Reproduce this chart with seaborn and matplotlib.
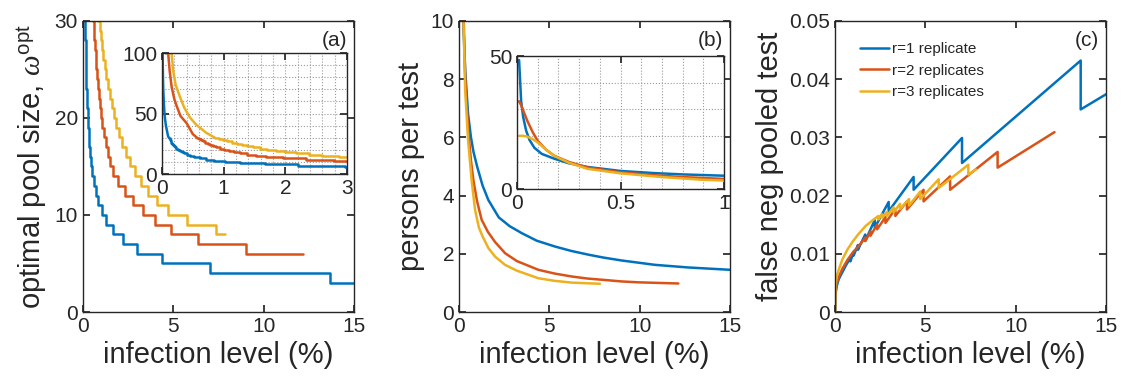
import matplotlib
matplotlib.use("Agg")
import numpy as np
import pandas as pd
import matplotlib.pyplot as plt
import seaborn as sns

# ── Data ──────────────────────────────────────────────────────────────────────
SERIES = ["r=1 replicate", "r=2 replicates", "r=3 replicates"]
COLORS = ["#0072BD", "#D95319", "#EDB120"]

# (a) optimal pool size, large pools (k > 30): steps too fine to see, read as a curve
pool_hi_x_r1 = [0.01, 0.013, 0.016, 0.021, 0.029, 0.041, 0.051, 0.064, 0.084, 0.1]
pool_hi_k_r1 = [100, 90, 80, 70, 60, 50, 45, 40, 35, 31]
pool_hi_x_r2 = [0.06, 0.1, 0.125, 0.157, 0.2, 0.24, 0.3, 0.4, 0.5]
pool_hi_k_r2 = [100, 100, 85, 72, 62, 56, 48, 42, 33]
pool_hi_x_r3 = [0.076, 0.157, 0.18, 0.22, 0.29, 0.36, 0.45, 0.55, 0.72]
pool_hi_k_r3 = [100, 100, 86, 74, 64, 55, 47, 41, 34]

# (a) optimal pool size, k <= 30: infection level (%) where each step starts, last = curve end
pool_x_r1 = [0.114, 0.122, 0.131, 0.141, 0.152, 0.165, 0.179, 0.195, 0.213, 0.234,
             0.258, 0.285, 0.318, 0.356, 0.402, 0.458, 0.526, 0.61, 0.715, 0.85,
             1.03, 1.27, 1.67, 2.20, 2.97, 4.35, 7.03, 13.7, 15.0]
pool_k_r1 = [30, 29, 28, 27, 26, 25, 24, 23, 22, 21,
             20, 19, 18, 17, 16, 15, 14, 13, 12, 11,
             10, 9, 8, 7, 6, 5, 4, 3, 3]
pool_x_r2 = [0.57, 0.60, 0.63, 0.67, 0.70, 0.74, 0.78, 0.83, 0.88, 0.94,
             1.01, 1.08, 1.16, 1.26, 1.38, 1.52, 1.68, 1.96, 2.33, 2.79,
             3.34, 3.98, 4.9, 6.37, 9.0, 12.2]
pool_k_r2 = [30, 29, 28, 27, 26, 25, 24, 23, 22, 21,
             20, 19, 18, 17, 16, 15, 14, 13, 12, 11,
             10, 9, 8, 7, 6, 6]
pool_x_r3 = [0.86, 0.92, 0.99, 1.06, 1.13, 1.21, 1.29, 1.38, 1.48, 1.59,
             1.71, 1.85, 2.0, 2.18, 2.38, 2.6, 2.87, 3.24, 3.6, 4.1,
             4.72, 5.74, 7.38, 7.85]
pool_k_r3 = [30, 29, 28, 27, 26, 25, 24, 23, 22, 21,
             20, 19, 18, 17, 16, 15, 14, 13, 12, 11,
             10, 9, 8, 8]

# (b) persons per test
ppt_x_r1 = [0.01, 0.02, 0.03, 0.044, 0.06, 0.084, 0.12, 0.18, 0.25, 0.34, 0.5, 0.66,
            0.8, 1.0, 1.3, 1.62, 2.2, 2.8, 3.47, 4.3, 5.31, 6.2, 7.16, 8.0, 9.0,
            10.85, 12.69, 15.0]
ppt_y_r1 = [48.5, 33, 27, 22, 18.5, 15.5, 13.2, 11.4, 9.7, 8.3, 6.8, 6.0,
            5.5, 5.0, 4.35, 3.85, 3.25, 2.95, 2.71, 2.45, 2.25, 2.1, 1.97, 1.87, 1.77,
            1.62, 1.53, 1.45]
ppt_x_r2 = [0.01, 0.02, 0.035, 0.05, 0.075, 0.1, 0.14, 0.18, 0.25, 0.34, 0.5, 0.66,
            0.8, 1.0, 1.25, 1.6, 2.0, 2.55, 3.2, 4.39, 5.3, 6.24, 7.1, 8.08, 9.0,
            9.92, 11.0, 12.14]
ppt_y_r2 = [33, 31.5, 28.5, 25.6, 21.5, 18.1, 14.8, 12.5, 10.2, 8.1, 6.3, 5.2,
            4.5, 3.8, 3.17, 2.75, 2.4, 2.02, 1.75, 1.45, 1.32, 1.22, 1.15, 1.10, 1.05,
            1.02, 1.0, 0.98]
ppt_x_r3 = [0.01, 0.03, 0.05, 0.075, 0.1, 0.14, 0.18, 0.25, 0.34, 0.5, 0.7, 0.89,
            1.1, 1.3, 1.62, 2.0, 2.55, 3.2, 4.39, 5.3, 6.24, 7.0, 7.8]
ppt_y_r3 = [20, 20, 19.7, 18.8, 17.5, 14.8, 12.5, 9.9, 7.6, 5.9, 4.5, 3.5,
            2.9, 2.6, 2.2, 1.9, 1.62, 1.42, 1.16, 1.07, 1.01, 0.99, 0.97]

# (c) false negative rate of a pooled test (sawtooth: peak then drop at same x)
fn_x_r1 = [0, 0.02, 0.1, 0.2, 0.4, 0.6, 0.85, 0.85, 1.03, 1.03, 1.27, 1.27, 1.67, 1.67,
           2.2, 2.2, 2.97, 2.97, 4.35, 4.35, 7.03, 7.03, 13.6, 13.6, 15.0]
fn_y_r1 = [0, 0.0030, 0.0045, 0.0056, 0.0068, 0.0080, 0.0093, 0.0087, 0.0103, 0.0097,
           0.0115, 0.0107, 0.0133, 0.0122, 0.0158, 0.0145, 0.0189, 0.0173, 0.0232, 0.0210,
           0.0299, 0.0256, 0.0432, 0.0348, 0.0374]
fn_x_r2 = [0, 0.02, 0.1, 0.2, 0.4, 0.7, 1.0, 1.3, 1.68, 1.68, 1.96, 1.96, 2.33, 2.33,
           2.79, 2.79, 3.34, 3.34, 3.98, 3.98, 4.9, 4.9, 6.37, 6.37, 9.0, 9.0, 12.15]
fn_y_r2 = [0, 0.0035, 0.0050, 0.0060, 0.0074, 0.0090, 0.0103, 0.0113, 0.0128, 0.0122,
           0.0138, 0.0131, 0.0150, 0.0142, 0.0163, 0.0153, 0.0177, 0.0165, 0.0190, 0.0176,
           0.0210, 0.0190, 0.0233, 0.0210, 0.0275, 0.0248, 0.0309]
fn_x_r3 = [0, 0.02, 0.1, 0.2, 0.4, 0.7, 1.0, 1.3, 1.7, 2.1, 2.4, 2.4, 2.6, 2.6, 2.87, 2.87,
           3.24, 3.24, 3.6, 3.6, 4.1, 4.1, 4.72, 4.72, 5.74, 5.74, 7.38, 7.38, 7.8]
fn_y_r3 = [0, 0.0045, 0.0062, 0.0072, 0.0090, 0.0108, 0.0122, 0.0134, 0.0148, 0.0158,
           0.0165, 0.0159, 0.0168, 0.0162, 0.0172, 0.0165, 0.0180, 0.0171, 0.0186, 0.0177,
           0.0194, 0.0183, 0.0207, 0.0194, 0.0228, 0.0213, 0.0253, 0.0236, 0.0245]

X_TICKS = [0, 5, 10, 15]
A_YTICKS = [0, 10, 20, 30]
B_YTICKS = [0, 2, 4, 6, 8, 10]
C_YTICKS = [0, 0.01, 0.02, 0.03, 0.04, 0.05]
C_YTICKLABELS = ["0", "0.01", "0.02", "0.03", "0.04", "0.05"]

# ── Style ─────────────────────────────────────────────────────────────────────
sns.set_theme(style="ticks")
plt.rcParams.update({
    "font.family": ["Liberation Sans", "DejaVu Sans"],
    "mathtext.fontset": "custom",
    "mathtext.rm": "Liberation Sans",
    "mathtext.it": "Liberation Serif:italic",
    "axes.edgecolor": "#262626",
    "axes.linewidth": 1.0,
    "xtick.direction": "in",
    "ytick.direction": "in",
    "xtick.top": True,
    "ytick.right": True,
    "xtick.major.size": 5,
    "ytick.major.size": 5,
    "xtick.color": "#262626",
    "ytick.color": "#262626",
    "xtick.labelsize": 15,
    "ytick.labelsize": 15,
    "axes.labelsize": 21,
    "axes.labelcolor": "#262626",
    "text.color": "#262626",
})

LW = 1.8


def line(ax, x, y, color, steps=False):
    df = pd.DataFrame({"x": x, "y": y})
    sns.lineplot(data=df, x="x", y="y", ax=ax, color=color, lw=LW,
                 estimator=None, sort=False, legend=False,
                 drawstyle="steps-post" if steps else "default")


def draw(ax, xs, ys):
    for x, y, color in zip(xs, ys, COLORS):
        line(ax, x, y, color)


def draw_pool(ax):
    his = [(pool_hi_x_r1, pool_hi_k_r1), (pool_hi_x_r2, pool_hi_k_r2), (pool_hi_x_r3, pool_hi_k_r3)]
    steps = [(pool_x_r1, pool_k_r1), (pool_x_r2, pool_k_r2), (pool_x_r3, pool_k_r3)]
    for (hx, hk), (sx, sk), color in zip(his, steps, COLORS):
        line(ax, hx + sx[:1], hk + sk[:1], color)
        line(ax, sx, sk, color, steps=True)


def style_main(ax, yticks, ylim, ylabel, tag, yticklabels=None):
    ax.set_xlim(0, 15)
    ax.set_ylim(*ylim)
    ax.set_xticks(X_TICKS)
    ax.set_yticks(yticks)
    if yticklabels is not None:
        ax.set_yticklabels(yticklabels)
    ax.set_xlabel("infection level (%)")
    ax.set_ylabel(ylabel)
    ax.text(0.975, 0.965, tag, transform=ax.transAxes, ha="right", va="top", fontsize=15)


def style_inset(ax, xlim, ylim, xticks, yticks, xgrid, ygrid, xticklabels=None):
    ax.set_facecolor("white")
    ax.set_xlim(*xlim)
    ax.set_ylim(*ylim)
    ax.set_xticks(xticks)
    if xticklabels is not None:
        ax.set_xticklabels(xticklabels)
    ax.set_yticks(yticks)
    ax.set_xticks(xgrid, minor=True)
    ax.set_yticks(ygrid, minor=True)
    ax.tick_params(which="minor", length=0)
    ax.grid(True, which="both", linestyle=":", color="0.6", lw=0.8)
    ax.set_axisbelow(True)
    ax.set_xlabel("")
    ax.set_ylabel("")


fig = plt.figure(figsize=(11.21, 3.85), dpi=100)
ax_a = fig.add_axes([0.074, 0.1896, 0.2417, 0.756])
ax_b = fig.add_axes([0.4095, 0.1896, 0.2417, 0.756])
ax_c = fig.add_axes([0.7449, 0.1896, 0.2417, 0.756])
ax_ai = fig.add_axes([0.1445, 0.548, 0.165, 0.314])
ax_bi = fig.add_axes([0.4612, 0.509, 0.1847, 0.3455])

ppt_x = [ppt_x_r1, ppt_x_r2, ppt_x_r3]
ppt_y = [ppt_y_r1, ppt_y_r2, ppt_y_r3]
fn_x = [fn_x_r1, fn_x_r2, fn_x_r3]
fn_y = [fn_y_r1, fn_y_r2, fn_y_r3]

# (a)
draw_pool(ax_a)
style_main(ax_a, A_YTICKS, (0, 30), "optimal pool size, $\\omega^{\\rm opt}$", "(a)")
draw_pool(ax_ai)
style_inset(ax_ai, (0, 3), (0, 100), [0, 1, 2, 3], [0, 50, 100],
            np.arange(0, 3.01, 0.2), np.arange(0, 101, 10))

# (b)
draw(ax_b, ppt_x, ppt_y)
style_main(ax_b, B_YTICKS, (0, 10), "persons per test", "(b)")
draw(ax_bi, ppt_x, ppt_y)
style_inset(ax_bi, (0, 1), (0, 50), [0, 0.5, 1], [0, 50],
            np.arange(0, 1.01, 0.1), np.arange(0, 51, 10), xticklabels=["0", "0.5", "1"])

# (c)
draw(ax_c, fn_x, fn_y)
style_main(ax_c, C_YTICKS, (0, 0.05), "false neg pooled test", "(c)", C_YTICKLABELS)
ax_c.legend(handles=ax_c.lines[:3], labels=SERIES, loc="upper left",
            bbox_to_anchor=(0.04, 0.975), frameon=False, fontsize=11,
            handlelength=1.9, handletextpad=0.25, labelspacing=0.5)

fig.savefig("out.png", dpi=100)
